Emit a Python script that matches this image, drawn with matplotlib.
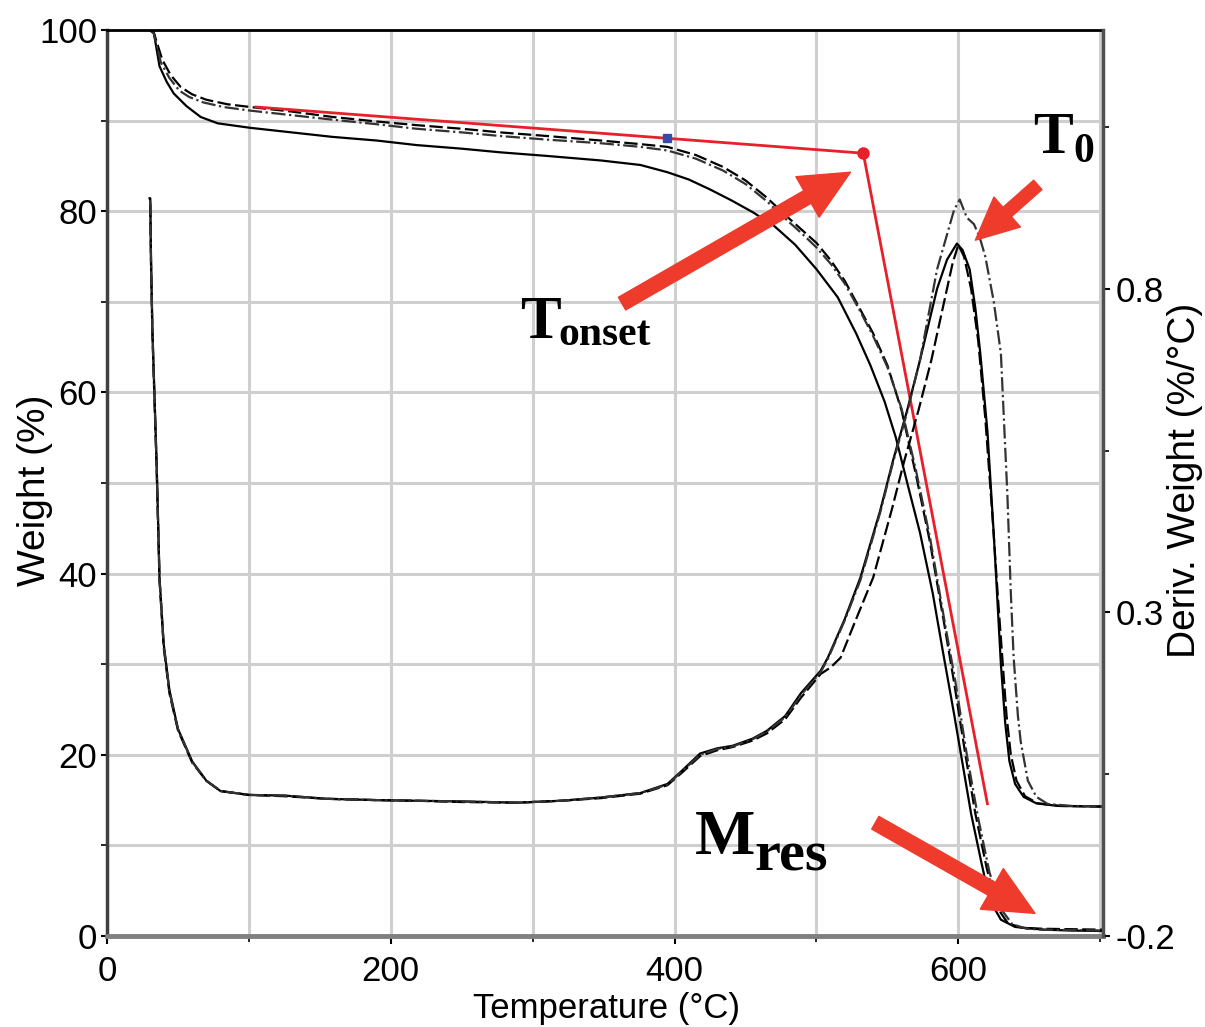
import matplotlib
matplotlib.use("Agg")
import matplotlib.pyplot as plt

plt.rcParams["axes.unicode_minus"] = False

# weight curves (left axis, %)
t_w1 = [30, 33, 37, 42, 47, 56, 66, 78, 101, 130, 159, 190, 218, 250, 277, 310, 348, 376, 395,
        410, 425, 440, 455, 470, 485, 500, 515, 528, 538, 548, 556, 564, 573, 582, 589, 597,
        603, 609, 616, 622, 630, 640, 660, 680, 702]
w1 = [100, 99.7, 96.0, 94.3, 93.0, 91.6, 90.4, 89.7, 89.2, 88.7, 88.2, 87.8, 87.3, 86.9, 86.5,
      86.1, 85.6, 85.1, 84.3, 83.5, 82.4, 81.2, 79.9, 78.4, 76.3, 73.6, 70.5, 66.5, 63.0, 59.0,
      55.0, 50.0, 44.5, 37.8, 31.5, 24.5, 19.0, 13.5, 8.3, 4.0, 1.8, 1.0, 0.7, 0.6, 0.55]

t_w2 = [30, 33, 39, 45, 52, 60, 70, 85, 101, 130, 159, 190, 218, 250, 277, 310, 348, 376, 395,
        415, 434, 450, 465, 480, 490, 500, 510, 520, 530, 540, 550, 560, 570, 580, 590, 597,
        605, 612, 620, 627, 635, 645, 660, 702]
w2 = [100, 99.7, 96.7, 95.0, 93.7, 92.9, 92.3, 91.8, 91.5, 91.0, 90.4, 89.9, 89.5, 89.1, 88.7,
      88.3, 87.8, 87.4, 87.1, 86.2, 84.9, 83.4, 81.5, 79.3, 77.9, 76.5, 74.6, 72.3, 69.4, 66.5,
      63.0, 58.0, 51.0, 43.5, 34.5, 28.0, 20.0, 13.5, 7.5, 3.2, 1.4, 0.9, 0.8, 0.7]

t_w3 = [30, 33, 38, 44, 51, 58, 68, 82, 101, 130, 159, 190, 218, 250, 277, 310, 348, 376, 395,
        415, 434, 450, 465, 480, 490, 500, 510, 520, 530, 540, 550, 560, 570, 580, 590, 598,
        606, 614, 622, 630, 638, 648, 660, 702]
w3 = [100, 99.6, 96.4, 94.7, 93.3, 92.6, 92.0, 91.5, 91.1, 90.6, 90.1, 89.6, 89.1, 88.7, 88.3,
      87.9, 87.5, 87.1, 86.7, 85.8, 84.5, 83.0, 81.1, 78.9, 77.5, 76.0, 74.2, 72.0, 69.2, 66.2,
      62.8, 58.2, 51.5, 44.0, 35.0, 28.0, 20.0, 13.0, 7.0, 3.0, 1.3, 0.8, 0.7, 0.6]

# derivative curves (right axis, %/°C)
t_d1 = [30, 30.5, 31, 32, 35, 37, 40, 44, 50, 60, 70, 80, 100, 125, 155, 190, 218, 250, 289,
        320, 348, 376, 395, 405, 418, 430, 441, 455, 465, 478, 489, 503, 508, 520, 531, 545,
        554, 564, 573, 585, 592, 599, 603, 608, 612, 615.5, 620.5, 625, 628, 630, 633, 636,
        640, 646, 655, 670, 702]
d1 = [0.94, 0.94, 0.85, 0.737, 0.53, 0.354, 0.25, 0.18, 0.12, 0.07, 0.04, 0.024, 0.018, 0.017,
      0.012, 0.010, 0.009, 0.008, 0.006, 0.009, 0.014, 0.021, 0.035, 0.055, 0.082, 0.09, 0.094,
      0.105, 0.117, 0.14, 0.175, 0.21, 0.23, 0.29, 0.354, 0.458, 0.535, 0.613, 0.69, 0.80, 0.845,
      0.87, 0.86, 0.83, 0.77, 0.70, 0.58, 0.42, 0.30, 0.22, 0.13, 0.07, 0.035, 0.015, 0.005,
      0.001, 0.0]

t_d2 = [30, 30.5, 31, 32, 35, 37, 40, 44, 50, 60, 70, 80, 100, 125, 155, 190, 218, 250, 289,
        320, 348, 376, 395, 405, 418, 430, 441, 455, 465, 478, 489, 503, 510, 517, 528, 540,
        553, 562, 572, 581, 590, 596, 600, 604, 609, 614, 619, 624, 628, 631, 634, 637, 641,
        647, 656, 672, 702]
d2 = [0.93, 0.93, 0.84, 0.73, 0.52, 0.35, 0.245, 0.175, 0.118, 0.068, 0.04, 0.024, 0.018,
      0.016, 0.012, 0.010, 0.009, 0.007, 0.006, 0.009, 0.013, 0.02, 0.033, 0.052, 0.078, 0.087,
      0.092, 0.102, 0.113, 0.135, 0.168, 0.205, 0.215, 0.23, 0.29, 0.354, 0.458, 0.535, 0.613,
      0.69, 0.78, 0.84, 0.868, 0.85, 0.80, 0.72, 0.60, 0.45, 0.32, 0.23, 0.14, 0.08, 0.04,
      0.016, 0.005, 0.001, 0.0]

t_d3 = [30, 30.5, 31, 32, 35, 37, 40, 44, 50, 60, 70, 80, 100, 125, 155, 190, 218, 250, 289,
        320, 348, 376, 395, 405, 418, 430, 441, 455, 465, 478, 489, 503, 508, 520, 531, 545,
        554, 564, 573, 585, 597, 601, 606, 611, 615, 619, 625, 630, 634.6, 637, 639, 642, 644,
        649, 655, 663, 680, 702]
d3 = [0.935, 0.935, 0.845, 0.735, 0.525, 0.352, 0.248, 0.178, 0.12, 0.069, 0.04, 0.024, 0.018,
      0.017, 0.012, 0.010, 0.009, 0.008, 0.006, 0.009, 0.014, 0.021, 0.034, 0.054, 0.08, 0.089,
      0.093, 0.104, 0.116, 0.138, 0.172, 0.208, 0.228, 0.288, 0.35, 0.455, 0.532, 0.61, 0.69,
      0.83, 0.922, 0.938, 0.91, 0.90, 0.88, 0.85, 0.78, 0.70, 0.48, 0.33, 0.23, 0.14, 0.10,
      0.04, 0.015, 0.004, 0.001, 0.0]

# onset tangent construction (weight axis)
tangent_t = [105, 533, 620.5]
tangent_w = [91.5, 86.4, 14.6]
onset_point = (533, 86.4)
blue_point = (395, 88.1)

# arrows (tail, head) in weight-axis data units
arrow_onset = ((363, 69.8), (524, 84.3))
arrow_t0 = ((656, 82.9), (612, 76.8))
arrow_mres = ((541.5, 12.5), (654, 2.5))

sans_narrow = ["Liberation Sans Narrow", "Liberation Sans", "DejaVu Sans"]
sans = ["Liberation Sans", "DejaVu Sans"]
serif = ["Liberation Serif", "DejaVu Serif"]
red = "#e8202a"
arrow_red = "#ee3b2c"

fig = plt.figure(figsize=(12.05, 10.27), dpi=100)
ax = fig.add_axes([0.0888, 0.0886, 0.8266, 0.8822])
ax2 = ax.twinx()

ax.set_xlim(0, 702)
ax.set_ylim(0, 100)
ax2.set_ylim(-0.2, 1.2)

ax.set_xticks([0, 200, 400, 600])
ax.set_xticks([100, 300, 500, 700], minor=True)
ax.set_yticks([0, 20, 40, 60, 80, 100])
ax.set_yticks([10, 30, 50, 70, 90], minor=True)
ax2.set_yticks([-0.2, 0.3, 0.8])
ax2.set_yticks([0.05, 0.55, 1.05], minor=True)

ax.grid(True, which="both", color="#cfcfcf", lw=2.2)
ax.set_axisbelow(True)

ax.tick_params(axis="x", which="major", length=6, width=1.5, pad=8, labelsize=25)
ax.tick_params(axis="x", which="minor", length=4, width=1.2)
ax.tick_params(axis="y", which="major", length=4, width=1.5, pad=3, labelsize=25)
ax.tick_params(axis="y", which="minor", length=4, width=1.2)
ax2.tick_params(axis="y", which="major", length=5, width=1.5, pad=4, labelsize=25)
ax2.tick_params(axis="y", which="minor", length=4, width=1.2)
for lab in ax.get_xticklabels() + ax.get_yticklabels() + ax2.get_yticklabels():
    lab.set_family(sans_narrow)

ax.spines["top"].set_color("black")
ax.spines["top"].set_linewidth(2.0)
ax.spines["left"].set_color("#404040")
ax.spines["left"].set_linewidth(2.5)
ax.spines["bottom"].set_color("#808080")
ax.spines["bottom"].set_linewidth(3.5)
ax.spines["right"].set_visible(False)
for s in ["top", "left", "bottom"]:
    ax2.spines[s].set_visible(False)
ax2.spines["right"].set_color("#505050")
ax2.spines["right"].set_linewidth(2.5)

# weight curves
ax.plot(t_w1, w1, color="black", lw=1.6, ls="-")
ax.plot(t_w2, w2, color="black", lw=1.6, ls=(0, (6, 2)))
ax.plot(t_w3, w3, color="#333333", lw=1.6, ls="-.")

# derivative curves
ax2.plot(t_d1, d1, color="black", lw=1.6, ls="-")
ax2.plot(t_d2, d2, color="black", lw=1.6, ls=(0, (6, 2)))
ax2.plot(t_d3, d3, color="#333333", lw=1.6, ls="-.")

# tangent construction
ax.plot(tangent_t, tangent_w, color=red, lw=2.0, zorder=5)
ax.plot(*onset_point, marker="o", ms=8, color=red, zorder=6)
ax.plot(*blue_point, marker="s", ms=6, color="#3a4aa8", zorder=6)

# arrows
def fat_arrow(tail, head, scale):
    ax2.annotate("", xy=head, xytext=tail, xycoords=ax.transData, textcoords=ax.transData,
                 arrowprops=dict(arrowstyle="simple,head_length=3.4,head_width=3.2,tail_width=1.0",
                                 color=arrow_red, mutation_scale=scale, shrinkA=0, shrinkB=0),
                 zorder=8)

fat_arrow(*arrow_onset, 10.5)
fat_arrow(*arrow_t0, 9)
fat_arrow(*arrow_mres, 10.5)

# labels
ax2.text(291, 66.0, "T", transform=ax.transData, family=serif, weight="bold", fontsize=44,
         ha="left", va="baseline", zorder=9)
ax2.text(318, 65.2, "onset", transform=ax.transData, family=serif, weight="bold", fontsize=30,
         ha="left", va="baseline", zorder=9)
ax2.text(653, 86.4, "T", transform=ax.transData, family=serif, weight="bold", fontsize=43,
         ha="left", va="baseline", zorder=9)
ax2.text(681, 85.4, "0", transform=ax.transData, family=serif, weight="bold", fontsize=30,
         ha="left", va="baseline", zorder=9)
ax2.text(414, 9.1, "M", transform=ax.transData, family=serif, weight="bold", fontsize=46,
         ha="left", va="baseline", zorder=9)
ax2.text(456, 7.2, "res", transform=ax.transData, family=serif, weight="bold", fontsize=42,
         ha="left", va="baseline", zorder=9)

ax.set_xlabel("Temperature (°C)", family=sans_narrow, fontsize=25)
ax.xaxis.set_label_coords(0.501, -0.0795)
ax.xaxis.label.set_va("center")
ax.set_ylabel("Weight (%)", family=sans, fontsize=28)
ax.yaxis.set_label_coords(-0.0723, 0.492)
ax.yaxis.label.set_va("center")
ax2.set_ylabel("Deriv. Weight (%/°C)", family=sans, fontsize=28)
ax2.yaxis.set_label_coords(1.082, 0.503)
ax2.yaxis.label.set_va("center")

fig.savefig("out.png", dpi=100)
